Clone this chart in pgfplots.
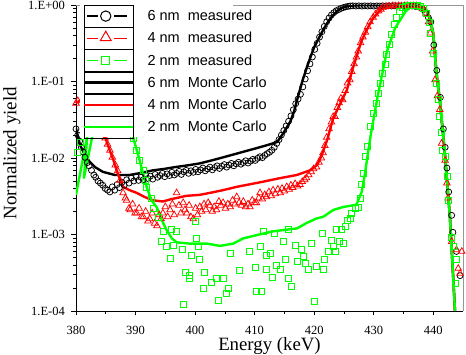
\documentclass[border=0pt]{standalone}
\usepackage{fontspec}
\setmainfont{Liberation Serif}
\setsansfont{Liberation Sans}
\usepackage{pgfplots}
\pgfplotsset{compat=1.18}

\definecolor{mcgreen}{RGB}{0,255,0}
\definecolor{mcred}{RGB}{255,0,0}
\definecolor{framegray}{RGB}{150,150,150}

\begin{document}
\begin{tikzpicture}
\begin{axis}[
  name=ax,
  scale only axis, width=387pt, height=306pt,
  xmin=380, xmax=445, ymode=log, ymin=1e-4, ymax=1,
  axis x line*=bottom, axis y line*=left,
  axis line style={black, line width=0.8pt},
  clip mode=individual,
  xtick={380,390,...,440}, minor xtick={385,395,...,435},
  ytick={1e-4,1e-3,1e-2,1e-1,1},
  minor ytick={2e-4,3e-4,4e-4,5e-4,6e-4,7e-4,8e-4,9e-4,
               2e-3,3e-3,4e-3,5e-3,6e-3,7e-3,8e-3,9e-3,
               2e-2,3e-2,4e-2,5e-2,6e-2,7e-2,8e-2,9e-2,
               0.2,0.3,0.4,0.5,0.6,0.7,0.8,0.9},
  yticklabels={1.E-04,1.E-03,1.E-02,1.E-01,1.E+00},
  tick align=outside,
  major tick length=4.5pt, minor tick length=3pt,
  tick style={black, line width=0.6pt},
  xticklabel style={font=\fontsize{12.5}{14}\selectfont,
    /pgf/number format/assume math mode=true,
    inner sep=0pt, anchor=north, yshift=-11pt},
  yticklabel style={font=\fontsize{12.5}{14}\selectfont,
    inner sep=0pt, anchor=east, xshift=-6.5pt},
  xlabel={Energy (keV)}, ylabel={Normalized yield},
  xlabel style={font=\fontsize{18.8}{22}\selectfont,
    at={(axis description cs:0.5,-0.087)}, anchor=north, inner sep=0pt},
  ylabel style={font=\fontsize{19}{22}\selectfont,
    at={(axis description cs:-0.1886,0.516)}, rotate=0, anchor=north, inner sep=0pt},
  legend style={at={(axis description cs:0.0181,1)}, anchor=north west,
    draw=none, fill=none, inner sep=0pt, outer sep=0pt,
    row sep=0pt, column sep=13pt,
    font=\sffamily\fontsize{14.5}{17}\selectfont,
    nodes={inner sep=0pt}},
  legend cell align=left,
]

% frame on the top and right
\draw[framegray, line width=0.8pt] (rel axis cs:0,1) -- (rel axis cs:1,1) -- (rel axis cs:1,0);

% legend entries
\addlegendimage{legend image code/.code={
  \path (0pt,-10.9pt) rectangle (49pt,10.9pt);
  \draw[black, line width=1.3pt] (3pt,0pt) -- (14pt,0pt) (30pt,0pt) -- (43pt,0pt);
  \draw[black, line width=1pt] plot[mark=o, mark size=5.2pt] coordinates {(21.5pt,0pt)};}}
\addlegendentry{6 nm~~measured}
\addlegendimage{legend image code/.code={
  \path (0pt,-10.9pt) rectangle (49pt,10.9pt);
  \draw[mcred, line width=1.3pt] (3pt,0pt) -- (14pt,0pt) (30pt,0pt) -- (43pt,0pt);
  \draw[mcred, line width=1pt] plot[mark=triangle, mark size=6.3pt] coordinates {(21.5pt,0.8pt)};}}
\addlegendentry{4 nm~~measured}
\addlegendimage{legend image code/.code={
  \path (0pt,-10.9pt) rectangle (49pt,10.9pt);
  \draw[mcgreen, line width=1.3pt] (3pt,0pt) -- (14pt,0pt) (30pt,0pt) -- (43pt,0pt);
  \draw[mcgreen, line width=1pt] plot[mark=square, mark size=4.2pt] coordinates {(21.5pt,0pt)};}}
\addlegendentry{2 nm~~measured}
\addlegendimage{legend image code/.code={
  \path (0pt,-10.9pt) rectangle (49pt,10.9pt);
  \draw[black, line width=2.5pt] (0pt,0pt) -- (49pt,0pt);}}
\addlegendentry{6 nm~~Monte Carlo}
\addlegendimage{legend image code/.code={
  \path (0pt,-10.9pt) rectangle (49pt,10.9pt);
  \draw[mcred, line width=2.5pt] (0pt,0pt) -- (49pt,0pt);}}
\addlegendentry{4 nm~~Monte Carlo}
\addlegendimage{legend image code/.code={
  \path (0pt,-10.9pt) rectangle (49pt,10.9pt);
  \draw[mcgreen, line width=2.5pt] (0pt,0pt) -- (49pt,0pt);}}
\addlegendentry{2 nm~~Monte Carlo}

% Monte Carlo, 6 nm
\addplot[forget plot, black, line width=2.4pt, line join=round] coordinates {
(380.0,0.0245) (380.67,0.0148) (381.5,0.0110) (382.3,0.0089) (383.2,0.0076)
(384.5,0.0066) (386.5,0.0060) (389.0,0.0060) (391.0,0.0064) (392.9,0.0069)
(394.8,0.0072) (396.6,0.0076) (398.7,0.0080) (400.8,0.0085) (402.8,0.0093)
(404.7,0.0102) (406.6,0.0112) (408.5,0.0123) (410.4,0.0135) (412.2,0.0148)
(413.8,0.0162) (414.8,0.021) (416.0,0.030) (416.6,0.040) (417.2,0.060)
(418.0,0.100) (418.8,0.155) (419.4,0.21) (420.0,0.28) (420.8,0.37)
(421.5,0.47) (422.2,0.58) (423.0,0.71) (423.9,0.84) (424.8,0.93)
(425.8,0.97) (427.0,0.99) (429.7,0.995) (433.0,1.0) (437.1,1.0)
(437.9,0.97) (438.6,0.90) (439.1,0.78) (439.5,0.631) (440.0,0.427) (440.4,0.174)
(440.7,0.10) (441.1,0.0575) (441.5,0.027) (442.0,0.0105) (442.4,0.0042)
(442.8,0.0017) (443.2,0.00046) (443.65,0.000102) (444.0,0.000042)};

% Monte Carlo, 4 nm
\addplot[forget plot, mcred, line width=2.4pt, line join=round] coordinates {
(380.0,0.0525) (381.0,0.058) (382.5,0.063) (384.0,0.0316) (384.9,0.0186)
(385.6,0.0130) (386.3,0.0093) (387.1,0.0060) (387.9,0.0042) (389.0,0.0038)
(390.2,0.0035) (391.5,0.0031) (392.9,0.0028) (394.6,0.0027) (396.0,0.0029)
(396.9,0.0030) (398.5,0.0032) (400.8,0.0033) (402.5,0.0035) (404.7,0.0038)
(407.0,0.0042) (409.0,0.0045) (411.4,0.0049) (414.0,0.0054) (417.1,0.0060)
(419.3,0.0069) (420.5,0.0081) (421.3,0.0110) (422.2,0.0174) (423.2,0.0331)
(424.3,0.050) (425.5,0.0776) (426.4,0.141) (427.1,0.209) (427.9,0.331)
(428.8,0.468) (429.9,0.676) (431.1,0.851) (432.1,0.977) (433.2,1.0) (437.1,1.0)
(437.9,0.97) (438.6,0.90) (439.1,0.78) (439.5,0.631) (440.0,0.427) (440.4,0.174)
(440.7,0.10) (441.1,0.0575) (441.5,0.027) (442.0,0.0105) (442.4,0.0042)
(442.8,0.0017) (443.2,0.00046) (443.65,0.000102) (444.0,0.000042)};

% Monte Carlo, 2 nm
\addplot[forget plot, mcgreen, line width=2.4pt, line join=round] coordinates {
(380.0,0.0033) (381.85,0.0186) (382.1,0.0316) (381.34,0.0055) (382.7,0.0186)
(383.5,0.063) (388.5,0.050) (389.6,0.0186) (390.7,0.0093) (391.9,0.0041)
(392.7,0.0028) (393.6,0.00224) (394.4,0.00155) (395.2,0.00115) (396.1,0.00089)
(396.9,0.00079) (399.1,0.00076) (402.0,0.00076) (404.2,0.00071) (406.4,0.00076)
(408.1,0.00089) (410.3,0.00098) (413.1,0.00110) (415.9,0.00117) (417.1,0.00120)
(418.7,0.00141) (420.4,0.00162) (421.5,0.00170) (423.2,0.00209) (424.9,0.00229)
(427.1,0.00245) (428.0,0.00363) (428.5,0.00603) (429.5,0.0200) (430.7,0.0661)
(432.2,0.245) (433.6,0.501) (435.3,0.813) (436.3,0.977) (437.1,1.0)
(437.9,0.97) (438.6,0.90) (439.1,0.78) (439.5,0.631) (440.0,0.427) (440.4,0.174)
(440.7,0.10) (441.1,0.0575) (441.5,0.027) (442.0,0.0105) (442.4,0.0042)
(442.8,0.0017) (443.2,0.00046) (443.65,0.000102) (444.0,0.000042)};

% measured, 6 nm
\addplot[forget plot, only marks, mark=o, mark size=3pt, black, mark options={line width=0.75pt}] coordinates {
(380.0,0.0240) (380.3,0.0200) (380.6,0.0166) (380.9,0.0138) (381.2,0.0120)
(381.5,0.0102) (381.9,0.0087) (382.2,0.0079) (382.6,0.0069) (383.0,0.0060)
(383.3,0.0056) (383.7,0.0050) (384.1,0.0047) (384.5,0.0044) (384.9,0.0040)
(385.3,0.0038) (385.7,0.0036) (386.1,0.0042) (386.5,0.0038) (386.9,0.0045)
(387.3,0.0041) (387.7,0.0048) (388.1,0.0044) (388.5,0.0052) (388.9,0.0047)
(389.3,0.0055) (389.7,0.0050) (390.1,0.0057) (390.5,0.0051) (390.9,0.0056)
(391.3,0.0052) (391.7,0.0060) (392.1,0.0054) (392.5,0.0058) (392.9,0.0053)
(393.3,0.0061) (393.7,0.0056) (394.1,0.0059) (394.5,0.0063) (394.9,0.0057)
(395.3,0.0062) (395.7,0.0059) (396.1,0.0065) (396.5,0.0060) (396.9,0.0063)
(397.3,0.0067) (397.7,0.0061) (398.1,0.0066) (398.5,0.0069) (398.9,0.0063)
(399.3,0.0068) (399.7,0.0065) (400.1,0.0071) (400.5,0.0066) (400.9,0.0070)
(401.3,0.0074) (401.7,0.0068) (402.1,0.0072) (402.5,0.0076) (402.9,0.0070)
(403.3,0.0075) (403.7,0.0079) (404.1,0.0073) (404.5,0.0078) (404.9,0.0082)
(405.3,0.0076) (405.7,0.0081) (406.1,0.0085) (406.5,0.0079) (406.9,0.0084)
(407.3,0.0088) (407.7,0.0083) (408.1,0.0087) (408.5,0.0092) (408.9,0.0086)
(409.3,0.0091) (409.7,0.0096) (410.1,0.0093) (410.5,0.0099) (410.9,0.0104)
(411.3,0.0101) (411.7,0.0108) (412.1,0.0114) (412.5,0.0119) (412.9,0.0126)
(413.3,0.0138) (413.7,0.0155) (414.1,0.0174) (414.5,0.0200) (414.9,0.0229)
(415.3,0.0263) (415.7,0.0302) (416.1,0.0355) (416.5,0.0427) (416.9,0.0513)
(417.3,0.0590) (417.7,0.0680) (418.1,0.0850) (418.5,0.108) (418.9,0.138)
(419.3,0.170) (419.7,0.209) (420.1,0.263) (420.5,0.316) (420.9,0.380)
(421.3,0.447) (421.7,0.525) (422.1,0.603) (422.5,0.676) (422.9,0.741)
(423.3,0.794) (423.7,0.841) (424.1,0.871) (424.5,0.902) (424.9,0.926)
(425.3,0.945) (425.7,0.960) (426.1,0.972) (426.5,0.975) (427.0,0.970)
(427.5,0.975) (428.0,0.968) (428.5,0.976) (429.0,0.970) (429.5,0.975)
(430.0,0.968) (430.5,0.974) (431.0,0.970) (431.5,0.976) (432.0,0.969)
(432.5,0.974) (433.0,0.970) (433.5,0.975) (434.0,0.968) (434.5,0.973)
(435.0,0.970) (435.5,0.975) (436.0,0.968) (436.5,0.970) (437.0,0.960)
(437.6,0.940) (438.2,0.880) (438.7,0.800) (439.2,0.680) (439.6,0.600)
(440.1,0.300) (440.6,0.140) (441.2,0.062) (441.7,0.024) (442.0,0.0138)
(442.3,0.0074) (442.6,0.0036) (443.1,0.00178) (443.3,0.00107) (443.9,0.00060)
(444.5,0.00029)};

% measured, 4 nm
\addplot[forget plot, only marks, mark=triangle, mark size=3.8pt, mcred, mark options={line width=0.75pt}] coordinates {
(380.0,0.052) (380.3,0.056)
(384.9,0.0182) (385.3,0.0151) (385.7,0.0126) (386.1,0.0102) (386.6,0.0081)
(387.0,0.0068) (387.4,0.0051) (387.9,0.0035) (388.3,0.0030) (388.5,0.0028)
(388.9,0.0022) (389.1,0.0021) (389.5,0.0025) (389.9,0.0019) (390.2,0.0019)
(390.6,0.0022) (391.0,0.0017) (391.3,0.0017) (391.7,0.0020) (392.1,0.0015)
(392.4,0.0016) (392.8,0.0019) (393.2,0.0014) (393.6,0.0013) (394.0,0.0018)
(394.3,0.0016) (394.6,0.0019) (395.0,0.0023) (395.4,0.0017) (395.8,0.0021)
(396.2,0.0025) (396.5,0.0018) (396.9,0.0035) (397.3,0.0024) (397.6,0.0019)
(398.0,0.0026) (398.3,0.0021) (398.6,0.0019) (399.0,0.0024) (399.3,0.0017)
(399.7,0.0016) (400.1,0.0022) (400.4,0.0018) (400.8,0.0023) (401.1,0.0020)
(401.5,0.0025) (401.8,0.0021) (402.2,0.0026) (402.5,0.0024) (402.9,0.0020)
(403.2,0.0023) (403.6,0.0021) (404.0,0.0027) (404.3,0.0024) (404.7,0.0026)
(405.1,0.0022) (405.5,0.0025) (405.9,0.0023) (406.3,0.0028) (406.7,0.0025)
(407.0,0.0031) (407.4,0.0026) (407.8,0.0024) (408.1,0.0027) (408.5,0.0023)
(408.9,0.0025) (409.2,0.0023) (409.6,0.0028) (410.0,0.0026) (410.3,0.0026)
(410.7,0.0030) (410.9,0.0035) (411.3,0.0029) (411.7,0.0033) (412.0,0.0031)
(412.4,0.0036) (412.8,0.0032) (413.1,0.0038) (413.5,0.0034) (413.9,0.0039)
(414.3,0.0035) (414.6,0.0040) (415.0,0.0037) (415.4,0.0042) (415.8,0.0039)
(416.1,0.0044) (416.4,0.0041) (416.8,0.0046) (417.2,0.0043) (417.6,0.0045)
(418.0,0.0049) (418.4,0.0052) (418.7,0.0055) (419.1,0.0060) (419.5,0.0066)
(419.9,0.0072) (420.4,0.0076) (420.8,0.0088) (421.2,0.0100) (421.5,0.0117)
(421.8,0.0145) (422.1,0.0186) (422.5,0.0240) (422.9,0.0295) (423.2,0.0347)
(423.5,0.0347) (423.9,0.0457) (424.2,0.0525) (424.5,0.0603) (424.8,0.0575)
(425.2,0.0760) (425.6,0.0955) (426.0,0.105) (426.3,0.135) (426.7,0.170)
(427.1,0.209) (427.4,0.250) (427.8,0.320) (428.2,0.380) (428.6,0.440)
(429.0,0.520) (429.4,0.600) (429.9,0.690) (430.3,0.760) (430.8,0.830)
(431.2,0.880) (431.6,0.930) (432.1,0.955) (432.6,0.965) (433.2,0.975)
(433.7,0.970) (434.2,0.978) (434.7,0.970) (435.2,0.975) (435.7,0.978)
(436.2,0.970) (436.7,0.975) (437.2,0.972) (437.7,0.960) (438.3,0.900)
(438.8,0.780) (439.2,0.600) (439.5,0.430) (439.9,0.250) (440.3,0.105)
(440.7,0.065) (441.1,0.043) (441.4,0.0155) (442.0,0.0093) (442.3,0.0047)
(442.5,0.0030) (443.1,0.00081) (443.9,0.00063) (444.2,0.00036) (444.5,0.00031)
(444.8,0.00060)};

% measured, 2 nm
\addplot[forget plot, only marks, mark=square, mark size=3pt, mcgreen, mark options={line width=0.75pt}] coordinates {
(380.2,0.0117) (380.7,0.0162)
(389.6,0.0182) (390.2,0.0126) (390.7,0.0093) (391.3,0.0069) (391.6,0.0051)
(391.9,0.0041) (392.7,0.0030) (393.0,0.0022) (393.8,0.00166) (394.7,0.00110)
(396.1,0.00115) (396.9,0.00110) (394.4,0.00081) (395.2,0.00069) (396.3,0.00072)
(395.8,0.00049) (397.8,0.00063) (399.4,0.00054) (400.3,0.00089) (400.8,0.00047)
(400.5,0.00069) (398.3,0.00032) (399.1,0.000295) (399.0,0.00027) (401.5,0.00032)
(398.0,0.000123) (400.0,0.00148) (401.4,0.00020) (402.8,0.00024) (403.6,0.00027)
(404.7,0.00027) (405.6,0.00020) (405.3,0.00017) (403.9,0.000138) (405.9,0.00056)
(407.5,0.00034) (409.2,0.00060) (410.1,0.00037) (410.3,0.000178) (411.2,0.000178)
(410.9,0.00069) (411.5,0.00110) (412.0,0.00054) (412.6,0.00056) (412.9,0.000275)
(412.0,0.00035) (413.4,0.00105) (413.7,0.00040) (414.3,0.00035) (415.1,0.00047)
(414.8,0.00081) (415.7,0.00115) (415.7,0.00027) (416.2,0.00021) (416.8,0.00072)
(417.1,0.00044) (417.9,0.00063) (418.2,0.00051) (418.5,0.00042) (419.0,0.00035)
(419.6,0.00076) (420.1,0.000132) (420.4,0.00038) (421.3,0.00105) (421.5,0.00035)
(421.8,0.00047) (422.4,0.00060) (422.9,0.00085) (423.2,0.00069) (423.5,0.00060)
(423.8,0.00115) (424.3,0.00081) (424.6,0.00115) (424.9,0.00076) (425.2,0.00126)
(425.5,0.00155) (426.0,0.00162) (426.3,0.00191) (426.9,0.00219) (427.4,0.00229)
(427.7,0.00295) (428.0,0.0045) (428.2,0.0063) (428.6,0.0105) (428.9,0.0141)
(429.5,0.0257) (430.0,0.038) (430.5,0.0525) (430.8,0.0708) (431.2,0.0955)
(431.5,0.126) (431.9,0.166) (432.2,0.224) (432.6,0.309) (433.0,0.417)
(433.4,0.550) (433.8,0.692) (434.3,0.832) (434.8,0.933) (435.3,0.970)
(435.8,0.980) (436.3,0.985) (436.8,0.982) (437.3,0.975) (437.8,0.955)
(438.3,0.900) (438.8,0.780) (439.3,0.600) (439.5,0.430) (440.0,0.234)
(440.6,0.095) (440.9,0.058) (441.1,0.035) (441.4,0.0214) (441.6,0.0126)
(442.0,0.0105) (442.3,0.0058) (442.5,0.0028) (443.1,0.00093) (443.4,0.00069)
(443.9,0.00047) (443.7,0.00023)};

% opaque backing behind the legend
\fill[white] (axis cs:380.67,0.0188) rectangle (axis cs:406.3,1.015);
\end{axis}
\pgfresetboundingbox
\path[use as bounding box] ([xshift=-76pt,yshift=-44pt]ax.south west) rectangle ([xshift=3pt,yshift=5pt]ax.north east);
\end{tikzpicture}
\end{document}
